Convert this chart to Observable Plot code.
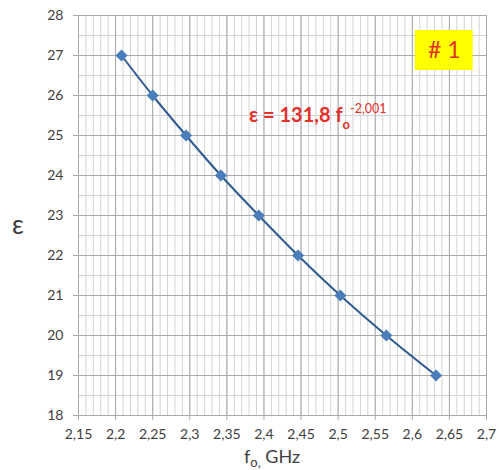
<!DOCTYPE html>
<html>
<head>
<meta charset="utf-8">
<script src="https://cdn.jsdelivr.net/npm/d3@7"></script>
<script src="https://cdn.jsdelivr.net/npm/@observablehq/plot@0.6"></script>
<style>
  html, body { margin: 0; padding: 0; background: #fff; }
  #chart svg { display: block; }
</style>
</head>
<body>
<div id="chart"></div>
<script>
// Data
const freqGHz = [2.208, 2.250, 2.295, 2.342, 2.393, 2.446, 2.503, 2.565, 2.632];
const epsilon = [27, 26, 25, 24, 23, 22, 21, 20, 19];
const xTicks = [2.15, 2.2, 2.25, 2.3, 2.35, 2.4, 2.45, 2.5, 2.55, 2.6, 2.65, 2.7];
const yTicks = [18, 19, 20, 21, 22, 23, 24, 25, 26, 27, 28];
const fitLabel = {main: "ε = 131,8 f", sub: "o", sup: "-2,001"};
const badgeLabel = "# 1";

const points = freqGHz.map((f, i) => ({f, e: epsilon[i]}));
const xMinor = d3.range(0, 56).map(i => +(2.15 + i * 0.01).toFixed(2));
const yMinor = d3.range(0, 21).map(i => 18 + i * 0.5);
const fmt = d => String(d).replace(".", ",");
const FONT = "Lato, 'Open Sans', sans-serif";

const chart = Plot.plot({
  width: 499,
  height: 470,
  marginLeft: 78,
  marginRight: 13,
  marginTop: 15,
  marginBottom: 55,
  style: {fontFamily: FONT, fontSize: "14px", color: "#404040", background: "#fff"},
  x: {domain: [2.15, 2.7]},
  y: {domain: [18, 28]},
  marks: [
    Plot.ruleX(xMinor, {stroke: "#d4d4d4", strokeWidth: 1}),
    Plot.ruleY(yMinor, {stroke: "#d4d4d4", strokeWidth: 1}),
    Plot.ruleX(xTicks, {stroke: "#a9a9a9", strokeWidth: 1}),
    Plot.ruleY(yTicks, {stroke: "#a9a9a9", strokeWidth: 1}),
    Plot.axisX({ticks: xTicks, tickFormat: fmt, tickSize: 5, tickPadding: 9, label: null, stroke: "#a9a9a9", fontSize: 14}),
    Plot.axisY({ticks: yTicks, tickFormat: d => d, tickSize: 5, tickPadding: 10, label: null, stroke: "#a9a9a9", fontSize: 14}),
    Plot.rect([{x1: 2.604, x2: 2.682, y1: 26.625, y2: 27.625}], {x1: "x1", x2: "x2", y1: "y1", y2: "y2", fill: "#ffff00"}),
    Plot.text([badgeLabel], {x: 2.643, y: 27.125, text: d => d, fill: "#e3302a", fontSize: 23, fontFamily: FONT}),
    Plot.line(points, {x: "f", y: "e", stroke: "#2f5b92", strokeWidth: 2, curve: "catmull-rom"}),
    Plot.dot(points, {x: "f", y: "e", symbol: "diamond2", r: 4.5, fill: "#4a7ebb", stroke: "#4a7ebb"})
  ]
});

document.getElementById("chart").appendChild(chart);

// Rich-text annotations placed through the chart's scales
const sx = chart.scale("x"), sy = chart.scale("y");
const svg = d3.select(chart);

const eq = svg.append("text")
  .attr("x", sx.apply(2.3805))
  .attr("y", sy.apply(25.325))
  .attr("text-anchor", "start")
  .attr("fill", "#e3302a")
  .attr("font-family", FONT)
  .attr("font-weight", "bold")
  .attr("font-size", 20);
eq.append("tspan").text(fitLabel.main);
eq.append("tspan").attr("font-size", 13).attr("dy", 7).text(fitLabel.sub);
eq.append("tspan").attr("font-size", 12.5).attr("font-weight", "normal").attr("dy", -16).attr("dx", 0).text(fitLabel.sup);

// Axis titles
const xt = svg.append("text")
  .attr("x", 244).attr("y", 463)
  .attr("text-anchor", "start")
  .attr("fill", "#404040")
  .attr("font-family", FONT)
  .attr("font-size", 18);
xt.append("tspan").text("f");
xt.append("tspan").attr("font-size", 13).attr("dy", 4).text("o,");
xt.append("tspan").attr("dy", -4).text(" GHz");

svg.append("text")
  .attr("x", 18).attr("y", 234)
  .attr("text-anchor", "middle")
  .attr("fill", "#404040")
  .attr("font-family", FONT)
  .attr("font-size", 26)
  .text("ε");
</script>
</body>
</html>
